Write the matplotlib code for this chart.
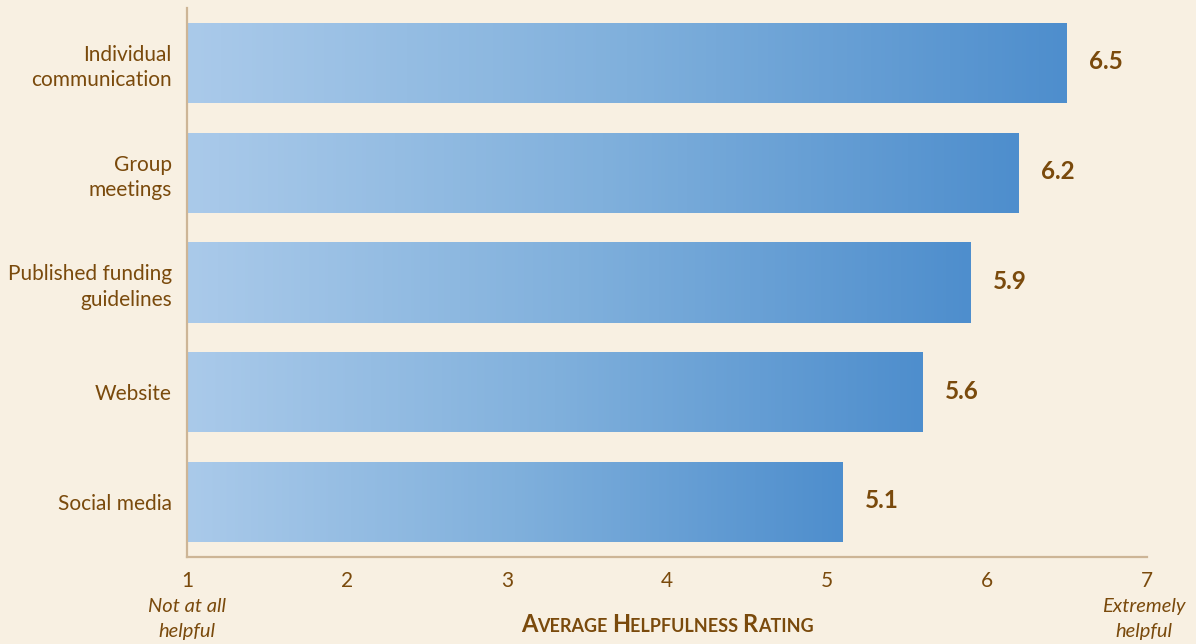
import numpy as np
import matplotlib
matplotlib.use("Agg")
import matplotlib.pyplot as plt
from matplotlib.colors import LinearSegmentedColormap

# data
categories = ["Individual\ncommunication", "Group\nmeetings",
              "Published funding\nguidelines", "Website", "Social media"]
ratings = [6.5, 6.2, 5.9, 5.6, 5.1]
x_ticks = [1, 2, 3, 4, 5, 6, 7]

bg = "#f8f0e2"
brown = "#7a4a0c"
spine_col = "#cdb596"
grad = LinearSegmentedColormap.from_list("g", ["#aacaea", "#80b0dc", "#4e8ecd"])

plt.rcParams["font.family"] = ["Lato", "DejaVu Sans"]

fig = plt.figure(figsize=(11.96, 6.44), dpi=100, facecolor=bg)
ax = fig.add_axes([0.1564, 0.1351, 0.8026, 0.8525], facecolor=bg)

ypos = np.arange(len(categories))[::-1]
bar_h = 0.73
bars = ax.barh(ypos, [r - 1 for r in ratings], left=1, height=bar_h,
               facecolor="none", edgecolor="none")

g = np.linspace(0, 1, 256).reshape(1, -1)
for b, y, r in zip(bars, ypos, ratings):
    im = ax.imshow(g, cmap=grad, aspect="auto",
                   extent=[1, r, y - bar_h / 2, y + bar_h / 2], zorder=2)
    im.set_clip_path(b)
    ax.text(r + 0.14, y + 0.01, f"{r}", ha="left", va="center",
            fontsize=17.5, fontweight="bold", color=brown)

ax.set_xlim(1, 7)
ax.set_ylim(-0.5, 4.5)
ax.set_xticks(x_ticks)
ax.set_xticklabels([str(t) for t in x_ticks])
ax.set_yticks(ypos)
ax.set_yticklabels(categories, linespacing=1.32)
ax.tick_params(axis="y", length=0, pad=11, labelsize=15, labelcolor=brown)
ax.tick_params(axis="x", length=0, pad=10, labelsize=15, labelcolor=brown)

for s in ["top", "right"]:
    ax.spines[s].set_visible(False)
for s in ["left", "bottom"]:
    ax.spines[s].set_color(spine_col)
    ax.spines[s].set_linewidth(1.6)

trans = ax.get_xaxis_transform()
ax.text(1.0, -0.113, "Not at all\nhelpful", transform=trans, ha="center",
        va="center", fontsize=14.5, style="italic", color=brown, linespacing=1.55)
ax.text(6.98, -0.113, "Extremely\nhelpful", transform=trans, ha="center",
        va="center", fontsize=14.5, style="italic", color=brown, linespacing=1.55)

# small-caps axis title built from pieces sharing one baseline
pieces = [("A", 17), ("VERAGE ", 13), ("H", 17), ("ELPFULNESS ", 13),
          ("R", 17), ("ATING", 13)]
title_y = -0.136
arts = [ax.text(4, title_y, txt, transform=trans, ha="left", va="baseline",
                fontsize=fs, fontweight="bold", color=brown)
        for txt, fs in pieces]

fig.canvas.draw()
rend = fig.canvas.get_renderer()
widths = [a.get_window_extent(rend).width for a in arts]
total = sum(widths)
cx = ax.transData.transform((4, 0))[0]
xpix = cx - total / 2
for a, w in zip(arts, widths):
    a.set_x(ax.transData.inverted().transform((xpix, 0))[0])
    xpix += w

fig.savefig("out.png", dpi=100, facecolor=bg)
